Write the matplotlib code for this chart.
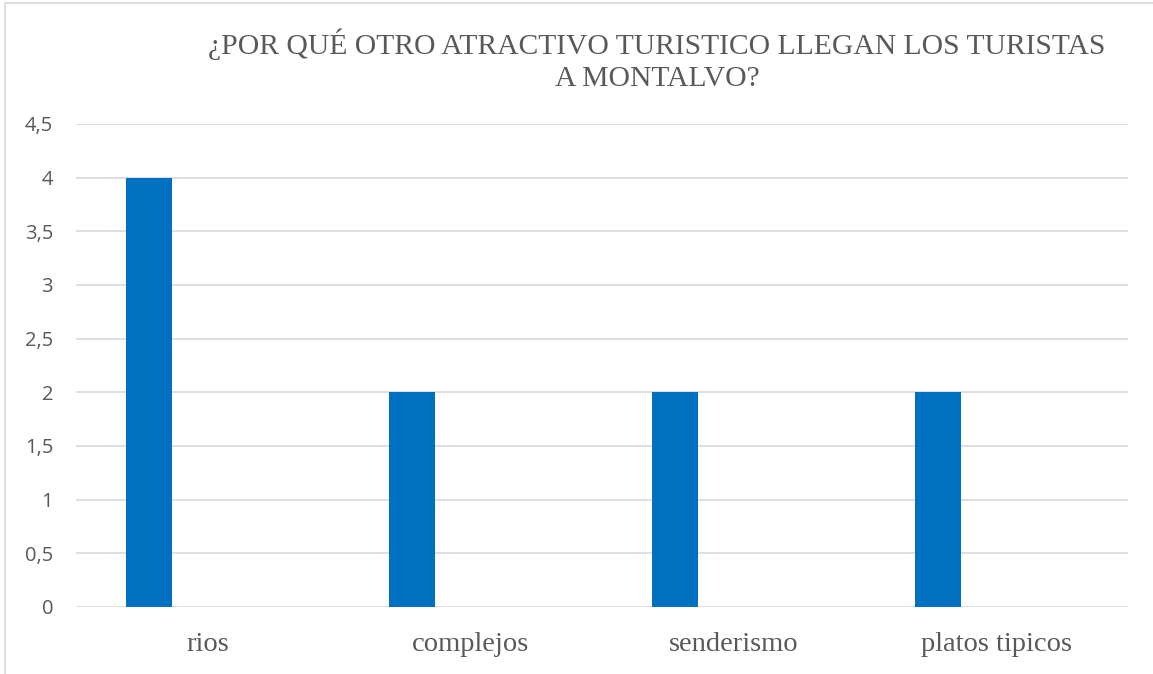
import matplotlib

matplotlib.use("Agg")
import matplotlib.pyplot as plt  # noqa: E402
from matplotlib.patches import Rectangle  # noqa: E402

categories = ["rios", "complejos", "senderismo", "platos tipicos"]
values = [4, 2, 2, 2]
yticks = [0, 0.5, 1, 1.5, 2, 2.5, 3, 3.5, 4, 4.5]
ytick_labels = ["0", "0,5", "1", "1,5", "2", "2,5", "3", "3,5", "4", "4,5"]
title = "¿POR QUÉ OTRO ATRACTIVO TURISTICO LLEGAN LOS TURISTAS\nA MONTALVO?"

W, H = 1153, 674
fig = plt.figure(figsize=(W / 100, H / 100), dpi=100)
ax = fig.add_axes([76 / W, 1 - 607 / H, (1128 - 76) / W, (607 - 124) / H])

# outer chart border (partly cropped in the original)
fig.patches.append(Rectangle((5 / W, -0.1), 1.2, 1 - 3 / H + 0.1, transform=fig.transFigure,
                             fill=False, edgecolor="#d9d9d9", linewidth=1.2))

x = list(range(len(categories)))
ax.bar([i - 0.222 for i in x], values, width=0.175, color="#0070C0", zorder=3)

ax.set_xlim(-0.5, len(categories) - 0.5)
ax.set_ylim(0, 4.5)
ax.set_yticks(yticks)
ax.set_yticklabels(ytick_labels, fontsize=14.5, color="#595959", family="Open Sans")
ax.set_xticks(x)
ax.set_xticklabels(categories, fontsize=20.5, color="#595959", family="Liberation Serif")
ax.tick_params(axis="both", length=0)
ax.tick_params(axis="y", pad=16.5)
ax.tick_params(axis="x", pad=18)
ax.grid(axis="y", color="#d9d9d9", linewidth=1.2, zorder=0)
for s in ax.spines.values():
    s.set_visible(False)

fig.text(657 / W, 1 - 60 / H, title, ha="center", va="center", fontsize=21.3,
         color="#595959", family="Liberation Serif", linespacing=1.3)

fig.savefig("out.png", dpi=100)
